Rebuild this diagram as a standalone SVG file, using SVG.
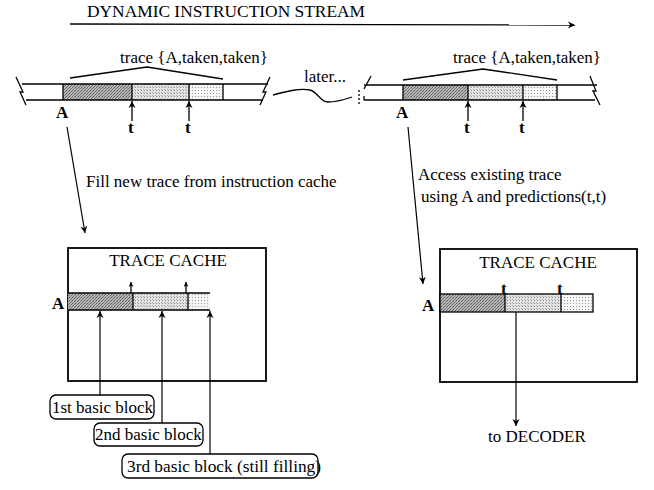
<svg xmlns="http://www.w3.org/2000/svg" width="654" height="490" viewBox="0 0 654 490">
<defs>
<pattern id="pd" width="3" height="3" patternUnits="userSpaceOnUse"><rect width="3" height="3" fill="#b8b8b8"/><rect width="1" height="1" fill="#555"/><rect x="2" y="1" width="1" height="1" fill="#666"/><rect x="1" y="2" width="1" height="1" fill="#777"/></pattern>
<pattern id="pm" width="3" height="3" patternUnits="userSpaceOnUse"><rect width="3" height="3" fill="#e4e4e4"/><rect width="1" height="1" fill="#888"/><rect x="2" y="2" width="1" height="1" fill="#aaa"/></pattern>
<pattern id="pl" width="3" height="3" patternUnits="userSpaceOnUse"><rect width="3" height="3" fill="#f6f6f6"/><rect width="1" height="1" fill="#999"/></pattern>
<marker id="ah" viewBox="0 0 10 10" refX="10" refY="5" markerWidth="7" markerHeight="9" orient="auto" markerUnits="userSpaceOnUse"><path d="M0,0 L10,5 L0,10 L3,5 Z" fill="#000"/></marker>
<marker id="ahs" viewBox="0 0 10 10" refX="10" refY="5" markerWidth="5" markerHeight="5" orient="auto" markerUnits="userSpaceOnUse"><path d="M0,0 L10,5 L0,10 L3,5 Z" fill="#000"/></marker>
</defs>
<style>
text{font-family:"Liberation Serif","Times New Roman",serif;fill:#000;font-size:17px}
.b{font-weight:bold}
.ln{stroke:#000;stroke-width:1.3;fill:none}
.bx{stroke:#000;stroke-width:1.8;fill:#fff}
.cn{stroke:#000;stroke-width:1.2;fill:none}
</style>
<rect width="654" height="490" fill="#fff"/>

<g id="title">
<text x="87" y="17" textLength="278" lengthAdjust="spacingAndGlyphs">DYNAMIC INSTRUCTION STREAM</text>
<line class="ln" x1="70" y1="24" x2="575" y2="25" stroke-width="1.8" marker-end="url(#ah)"/>
</g>

<g id="stream-left">
<text x="120" y="63">trace {A,taken,taken}</text>
<polyline class="ln" points="70,78 147,67 223,79"/>
<rect x="63" y="84" width="69" height="16" fill="url(#pd)"/>
<rect x="132" y="84" width="57" height="16" fill="url(#pm)"/>
<rect x="189" y="84" width="34" height="16" fill="url(#pl)"/>
<line class="ln" x1="22" y1="84" x2="268" y2="84"/>
<line class="ln" x1="26" y1="100" x2="263" y2="100"/>
<line class="ln" x1="63" y1="84" x2="63" y2="100"/>
<line class="ln" x1="132" y1="84" x2="132" y2="100"/>
<line class="ln" x1="189" y1="84" x2="189" y2="100"/>
<line class="ln" x1="223" y1="84" x2="223" y2="100"/>
<polyline class="ln" points="16,77 23,92 20,92 26,105"/>
<polyline class="ln" points="270,77 263,92 266,92 260,105"/>
<text class="b" x="56" y="118">A</text>
<line class="ln" x1="132" y1="121" x2="132" y2="101" marker-end="url(#ah)"/>
<line class="ln" x1="189" y1="121" x2="189" y2="101" marker-end="url(#ah)"/>
<text class="b" x="128" y="133" font-size="16">t</text>
<text class="b" x="185" y="133" font-size="16">t</text>
</g>

<g id="later">
<text x="304" y="82" font-size="16.5">later...</text>
<path class="ln" d="M273,95 C288,91 300,88 310,90 C318,92 320,102 328,102 C338,102 346,99 352,97"/>
</g>

<g id="stream-right">
<text x="453" y="63">trace {A,taken,taken}</text>
<polyline class="ln" points="403,80 483,69 557,80"/>
<rect x="403" y="85" width="65" height="15" fill="url(#pd)"/>
<rect x="468" y="85" width="55" height="15" fill="url(#pm)"/>
<rect x="523" y="85" width="34" height="15" fill="url(#pl)"/>
<line class="ln" x1="364" y1="85" x2="597" y2="85"/>
<line class="ln" x1="364" y1="100" x2="595" y2="100"/>
<line class="ln" x1="364" y1="96" x2="364" y2="100"/>
<line class="ln" x1="403" y1="85" x2="403" y2="100"/>
<line class="ln" x1="468" y1="85" x2="468" y2="100"/>
<line class="ln" x1="523" y1="85" x2="523" y2="100"/>
<line class="ln" x1="557" y1="85" x2="557" y2="100"/>
<line class="ln" x1="359" y1="90" x2="359" y2="106" stroke-dasharray="2,2"/>
<line class="ln" x1="371" y1="76" x2="364" y2="89"/>
<polyline class="ln" points="590,76 596,91 593,91 600,105"/>
<text class="b" x="396" y="118">A</text>
<line class="ln" x1="468" y1="121" x2="468" y2="101" marker-end="url(#ah)"/>
<line class="ln" x1="523" y1="121" x2="523" y2="101" marker-end="url(#ah)"/>
<text class="b" x="464" y="133" font-size="16">t</text>
<text class="b" x="519" y="133" font-size="16">t</text>
</g>

<g id="cache-left">
<rect class="bx" x="68" y="248" width="198" height="133"/>
<text x="168" y="266" text-anchor="middle">TRACE CACHE</text>
<rect x="68" y="293" width="65" height="17" fill="url(#pd)"/>
<rect x="133" y="293" width="55" height="17" fill="url(#pm)"/>
<rect x="188" y="293" width="22" height="17" fill="url(#pl)"/>
<line class="ln" x1="68" y1="293" x2="210" y2="293"/>
<line class="ln" x1="68" y1="310" x2="210" y2="310"/>
<line class="ln" x1="133" y1="293" x2="133" y2="310"/>
<line class="ln" x1="188" y1="293" x2="188" y2="310"/>
<line class="ln" x1="131" y1="293" x2="131" y2="282" marker-end="url(#ahs)"/>
<line class="ln" x1="186" y1="293" x2="186" y2="282" marker-end="url(#ahs)"/>
<text class="b" x="52" y="309">A</text>
</g>

<g id="cache-right">
<rect class="bx" x="440" y="249" width="197" height="133"/>
<text x="538" y="268" text-anchor="middle">TRACE CACHE</text>
<rect x="440" y="294" width="65" height="18" fill="url(#pd)"/>
<rect x="505" y="294" width="56" height="18" fill="url(#pm)"/>
<rect x="561" y="294" width="32" height="18" fill="url(#pl)"/>
<rect x="440" y="294" width="153" height="18" class="ln"/>
<line class="ln" x1="505" y1="294" x2="505" y2="312"/>
<line class="ln" x1="561" y1="294" x2="561" y2="312"/>
<text class="b" font-size="12" x="501" y="294">t</text>
<text class="b" font-size="12" x="557" y="294">t</text>
<text class="b" x="422" y="311">A</text>
</g>

<g id="label-1st">
<rect x="50" y="395" width="104" height="24" rx="6" class="ln"/>
<text x="52" y="413">1st basic block</text>
</g>
<g id="label-2nd">
<rect x="94" y="423" width="109" height="23" rx="6" class="ln"/>
<text x="95" y="440">2nd basic block</text>
</g>
<g id="label-3rd">
<rect x="122" y="454" width="196" height="24" rx="6" class="ln"/>
<text x="127" y="472" textLength="194" lengthAdjust="spacingAndGlyphs">3rd basic block (still filling)</text>
</g>

<g id="texts">
<text x="86" y="187" font-size="16.6">Fill new trace from instruction cache</text>
<text x="418" y="180">Access existing trace</text>
<text x="421" y="202">using A and predictions(t,t)</text>
<text x="488" y="442">to DECODER</text>
</g>

<g id="connectors">
<line class="cn" x1="67" y1="127" x2="85" y2="233" marker-end="url(#ah)"/>
<line class="cn" x1="408" y1="127" x2="423" y2="284" marker-end="url(#ah)"/>
<line class="cn" x1="100" y1="395" x2="100" y2="311" marker-end="url(#ah)"/>
<line class="cn" x1="162" y1="423" x2="162" y2="311" marker-end="url(#ah)"/>
<line class="cn" x1="210" y1="454" x2="210" y2="311" marker-end="url(#ah)"/>
<line class="cn" x1="516" y1="312" x2="516" y2="426" marker-end="url(#ah)"/>
</g>
</svg>
